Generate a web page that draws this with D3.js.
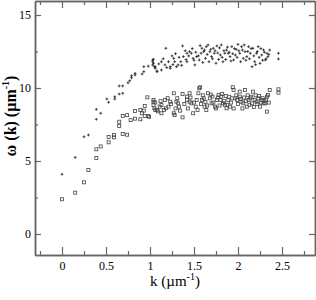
<!DOCTYPE html>
<html><head><meta charset="utf-8">
<script src="https://cdn.jsdelivr.net/npm/d3@7"></script>
<style>
html,body{margin:0;padding:0;background:#fff;}
svg text{font-family:"Liberation Serif","DejaVu Serif",serif;fill:#000;}
</style></head>
<body><svg id="c" width="316" height="300"></svg>
<script>
// k (µm^-1), omega(k) (µm^-1)
const plusK = [0,0.15,0.25,0.30,0.39,0.39,0.44,0.51,0.53,0.60,0.60,0.65,0.65,0.69,0.69,0.75,0.77,0.79,0.79,0.83,0.83,0.91,0.93,0.93,0.98,1.03,1.03,1.06,1.08,1.03,
 1.04,1.04,1.05,1.08,1.13,1.13,1.17,1.18,1.21,1.23,1.23,1.27,1.28,1.30,1.32,1.35,1.37,1.38,1.42,1.42,1.45,1.47,1.49,1.51,1.53,1.56,1.58,1.59,1.61,1.63,1.64,1.66,1.68,1.70,1.72,1.73,1.76,1.78,1.80,1.81,1.83,1.85,1.87,1.89,1.91,1.93,1.95,1.97,1.98,2.00,2.02,2.04,2.06,2.08,2.10,2.12,2.14,2.16,2.17,2.19,2.21,2.23,2.25,2.27,2.29,2.31,2.33,2.34,2.36,2.46,2.46,
 1.06,1.10,1.15,1.19,1.25,1.26,1.29,1.33,1.36,1.40,1.41,1.44,1.48,1.50,1.52,1.55,1.57,1.60,1.62,1.65,1.67,1.69,1.71,1.74,1.75,1.77,1.79,1.82,1.84,1.86,1.88,1.90,1.92,1.94,1.96,1.99,2.01,2.03,2.05,2.07,2.09,2.11,2.13,2.15,2.18,2.20,2.22,2.24,2.26,2.28,2.30,2.32,2.35];
const plusW = [4.09,5.25,6.66,6.78,8.54,7.86,8.27,9.25,9.02,9.40,9.25,10.14,9.59,10.14,9.64,10.36,10.50,10.70,10.84,10.89,11.00,10.96,11.12,11.46,11.50,11.80,11.58,11.46,11.16,11.92,
 11.96,11.69,11.46,11.12,11.23,11.80,11.58,12.72,11.80,11.46,11.35,12.03,11.80,11.46,11.58,11.80,12.88,12.15,12.38,11.80,12.49,12.38,12.03,11.58,12.15,11.92,12.38,12.72,12.49,12.03,12.83,12.95,12.49,12.15,12.72,12.38,12.88,11.96,12.26,12.95,11.80,12.38,12.60,12.38,12.15,12.83,11.92,12.26,12.65,12.99,12.38,12.83,12.03,12.49,12.15,12.83,12.38,11.46,12.72,11.80,12.38,12.83,11.69,12.26,12.60,11.92,12.38,12.15,12.60,12.38,11.99,
 11.35,11.65,12.00,11.40,12.20,11.60,12.35,12.10,11.55,12.55,11.95,12.20,12.70,11.90,12.45,12.20,12.90,11.75,12.60,12.30,11.80,12.65,12.00,12.55,11.70,12.40,12.75,12.10,12.55,11.95,12.80,12.45,11.85,12.35,12.70,12.10,12.55,11.80,12.60,12.95,11.90,12.50,12.00,12.70,12.20,11.60,12.50,12.10,12.70,11.90,12.45,12.00,12.30];
const squareK = [0,0.15,0.25,0.30,0.39,0.39,0.44,0.53,0.53,0.59,0.59,0.65,0.65,0.69,0.74,0.69,0.74,0.78,0.83,0.83,0.89,0.89,0.91,0.93,0.94,0.94,0.97,0.98,0.99,1.04,1.06,
 1.04,1.04,1.05,1.08,1.11,1.13,1.13,1.17,1.18,1.21,1.23,1.27,1.27,1.28,1.30,1.32,1.33,1.37,1.37,1.42,1.42,1.45,1.45,1.47,1.49,1.52,1.53,1.55,1.56,1.57,1.59,1.61,1.62,1.64,1.66,1.68,1.70,1.71,1.74,1.76,1.78,1.80,1.81,1.83,1.85,1.87,1.89,1.91,1.93,1.94,1.95,1.97,1.99,2.02,2.02,2.04,2.06,2.08,2.10,2.12,2.14,2.16,2.17,2.19,2.21,2.23,2.25,2.27,2.29,2.31,2.33,2.33,2.34,2.36,2.46,2.46,
 1.06,1.09,1.12,1.16,1.20,1.24,1.29,1.31,1.34,1.39,1.43,1.46,1.50,1.54,1.58,1.60,1.63,1.65,1.69,1.72,1.75,1.77,1.79,1.82,1.84,1.86,1.88,1.90,1.92,1.95,1.98,2.00,2.03,2.05,2.07,2.09,2.11,2.13,2.15,2.18,2.20,2.22,2.24,2.26,2.28,2.30,2.32,2.35];
const squareW = [2.38,2.83,3.54,4.38,5.20,5.80,6.00,6.28,6.64,6.62,6.78,7.40,7.69,6.85,6.80,8.08,8.14,7.80,7.90,8.42,7.86,8.49,8.27,8.45,8.08,8.77,9.36,8.08,8.03,9.06,8.49,
 9.18,8.84,8.61,8.49,8.72,8.84,8.27,9.18,8.61,8.72,9.06,9.64,8.27,8.15,9.06,8.95,8.72,7.99,9.59,9.18,9.41,9.06,9.64,8.95,8.27,8.72,9.18,9.64,9.98,10.05,9.18,9.29,8.72,8.49,9.64,9.29,8.95,9.41,8.72,9.18,9.52,9.18,9.41,8.95,8.84,8.61,9.18,8.72,9.29,10.05,9.86,9.29,9.18,9.75,9.41,9.06,8.95,9.86,8.72,9.18,9.29,8.95,9.75,9.18,9.06,9.29,8.72,9.18,8.95,8.95,8.38,9.41,9.52,9.86,9.91,9.68,
 9.00,8.40,9.10,8.50,9.30,8.90,8.60,9.30,8.45,8.90,8.60,9.35,9.00,8.50,8.90,9.50,9.05,8.80,9.55,9.00,8.60,9.35,8.80,9.60,9.10,9.45,8.85,9.40,9.00,8.60,9.50,8.90,9.25,8.60,9.35,9.10,9.50,8.85,9.40,8.70,9.50,8.90,9.45,9.00,9.30,9.10,9.20,9.00];
const xMajor = [0,0.5,1,1.5,2,2.5];
const xMinor = [-0.25,0.25,0.75,1.25,1.75,2.25,2.75];
const yMajor = [0,5,10,15];
const yMinor = [2.5,7.5,12.5];
const xTickLabels = ["0","0.5","1","1.5","2","2.5"];
const yTickLabels = ["0","5","10","15"];

const L=35,R=315,T=1,B=255;
const svg=d3.select("#c");
const x=d3.scaleLinear().domain([(L-62)/88,(R-62)/88]).range([L,R]);
const y=d3.scaleLinear().domain([(234-B)/14.6,(234-T)/14.6]).range([B,T]);
const axisColor="#666";

function styleAxis(g){
  g.selectAll(".domain").attr("stroke",axisColor).attr("stroke-width",1.5);
  g.selectAll(".tick line").attr("stroke",axisColor).attr("stroke-width",1.2);
  g.selectAll(".tick text").attr("font-family","Liberation Serif").attr("font-size",12).attr("fill","#000");
}
// bottom
svg.append("g").attr("transform",`translate(0,${B})`)
  .call(d3.axisBottom(x).tickValues(xMajor).tickSizeInner(-8).tickSizeOuter(0).tickPadding(6).tickFormat((d,i)=>xTickLabels[i]))
  .call(styleAxis);
svg.append("g").attr("transform",`translate(0,${B})`)
  .call(d3.axisBottom(x).tickValues(xMinor).tickSizeInner(-4).tickSizeOuter(0).tickFormat(""))
  .call(styleAxis);
// top
svg.append("g").attr("transform",`translate(0,${T})`)
  .call(d3.axisTop(x).tickValues(xMajor).tickSizeInner(-7).tickSizeOuter(0).tickFormat(""))
  .call(styleAxis);
svg.append("g").attr("transform",`translate(0,${T})`)
  .call(d3.axisTop(x).tickValues(xMinor).tickSizeInner(-4).tickSizeOuter(0).tickFormat(""))
  .call(styleAxis);
// left
svg.append("g").attr("transform",`translate(${L},0)`)
  .call(d3.axisLeft(y).tickValues(yMajor).tickSizeInner(-6).tickSizeOuter(0).tickPadding(4).tickFormat((d,i)=>yTickLabels[i]))
  .call(styleAxis);
svg.append("g").attr("transform",`translate(${L},0)`)
  .call(d3.axisLeft(y).tickValues(yMinor).tickSizeInner(-3).tickSizeOuter(0).tickFormat(""))
  .call(styleAxis);
// right
svg.append("g").attr("transform",`translate(${R},0)`)
  .call(d3.axisRight(y).tickValues(yMajor).tickSizeInner(-6).tickSizeOuter(0).tickFormat(""))
  .call(styleAxis);
svg.append("g").attr("transform",`translate(${R},0)`)
  .call(d3.axisRight(y).tickValues(yMinor).tickSizeInner(-3).tickSizeOuter(0).tickFormat(""))
  .call(styleAxis);

// squares
const sq=3;
svg.append("g").selectAll("rect").data(squareK.map((k,i)=>[k,squareW[i]])).join("rect")
  .attr("x",d=>x(d[0])-sq/2).attr("y",d=>y(d[1])-sq/2).attr("width",sq).attr("height",sq)
  .attr("fill","none").attr("stroke","#444").attr("stroke-width",0.8);
// plus
const ps=1.4;
svg.append("g").selectAll("path").data(plusK.map((k,i)=>[k,plusW[i]])).join("path")
  .attr("d",d=>{const cx=x(d[0]),cy=y(d[1]);return `M${cx-ps},${cy}H${cx+ps}M${cx},${cy-ps}V${cy+ps}`;})
  .attr("stroke","#222").attr("stroke-width",0.8).attr("fill","none");

// axis titles
const xt=svg.append("text").attr("x",(L+R)/2).attr("y",286).attr("text-anchor","middle").attr("font-size",15);
xt.append("tspan").text("k (\u00b5m");
xt.append("tspan").attr("font-size",10).attr("dy",-6).text("-1");
xt.append("tspan").attr("dy",6).text(")");

const yt=svg.append("text").attr("transform",`translate(16,116) rotate(-90)`).attr("text-anchor","middle").attr("font-size",16).attr("font-weight","bold");
yt.append("tspan").text("\u03c9 (k) (\u00b5m");
yt.append("tspan").attr("font-size",10).attr("dy",-7).text("-1");
yt.append("tspan").attr("dy",7).text(")");
</script></body></html>
